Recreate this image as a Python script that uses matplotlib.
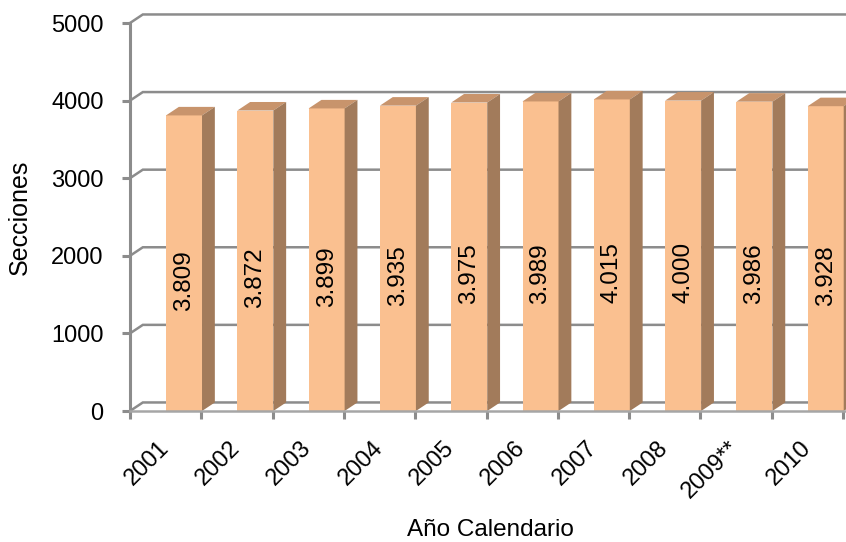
import matplotlib
matplotlib.use("Agg")
import matplotlib.pyplot as plt
from matplotlib.patches import Polygon, Rectangle

plt.rcParams['font.family'] = ['Liberation Sans', 'DejaVu Sans']

# datos
years = ["2001", "2002", "2003", "2004", "2005", "2006", "2007", "2008", "2009**", "2010"]
secciones = [3809, 3872, 3899, 3935, 3975, 3989, 4015, 4000, 3986, 3928]
yticks = [0, 1000, 2000, 3000, 4000, 5000]

# colores
c_front = "#FAC090"
c_top = "#C8946C"
c_side = "#A27B5B"
c_grid = "#8C8C8C"

# profundidad 3D (en unidades de datos)
dx, dy = 0.18, 110

fig = plt.figure(figsize=(8.46, 5.42), dpi=100)
ax = fig.add_axes([130 / 846, 131 / 542, 713 / 846, 388 / 542])
ax.set_xlim(0, 10)
ax.set_ylim(0, 5000)
for s in ax.spines.values():
    s.set_visible(False)

# rejilla (pared del fondo)
for v in yticks:
    ax.plot([0, dx, 10.2], [v, v + dy, v + dy], color=c_grid, lw=1.8, zorder=1,
            clip_on=False, solid_joinstyle="miter")

# eje Y y eje X
ax.plot([0, 0], [0, 5000], color=c_grid, lw=2.2, zorder=5, clip_on=False)
ax.plot([0, 10.2], [0, 0], color="#A6A6A6", lw=1.8, zorder=5, clip_on=False)

# barras
for i, (lab, v) in enumerate(zip(years, secciones)):
    x0, x1 = i + 0.505, i + 1.01
    ax.add_patch(Rectangle((x0, 0), x1 - x0, v, facecolor=c_front, edgecolor="none",
                           zorder=3, clip_on=False))
    ax.add_patch(Polygon([(x0, v), (x1, v), (x1 + dx, v + dy), (x0 + dx, v + dy)],
                         closed=True, facecolor=c_top, edgecolor="none", zorder=3, clip_on=False))
    ax.add_patch(Polygon([(x1, 0), (x1, v), (x1 + dx, v + dy), (x1 + dx, dy)],
                         closed=True, facecolor=c_side, edgecolor="none", zorder=3, clip_on=False))
    ax.text((x0 + x1) / 2, v / 2 - 220, f"{v / 1000:.3f}", rotation=90,
            ha="center", va="center", fontsize=17.5, zorder=6)

# ticks
ax.set_yticks(yticks)
ax.set_yticklabels([str(t) for t in yticks], fontsize=17)
ax.tick_params(axis="y", length=6, width=2.2, color=c_grid, pad=13)

ax.set_xticks(range(11), minor=True)
ax.tick_params(axis="x", which="minor", length=6, width=2.2, color=c_grid)
ax.set_xticks([i + 0.5 for i in range(10)])
ax.set_xticklabels(years, fontsize=17, rotation=45, ha="right", va="center",
                   rotation_mode="anchor")
ax.tick_params(axis="x", which="major", length=0, pad=24)

ax.set_ylabel("Secciones", fontsize=18, labelpad=14)
fig.text(490 / 846, 1 - 530 / 542, "Año Calendario", fontsize=17.5, ha="center", va="center")

fig.savefig("out.png", dpi=100)
